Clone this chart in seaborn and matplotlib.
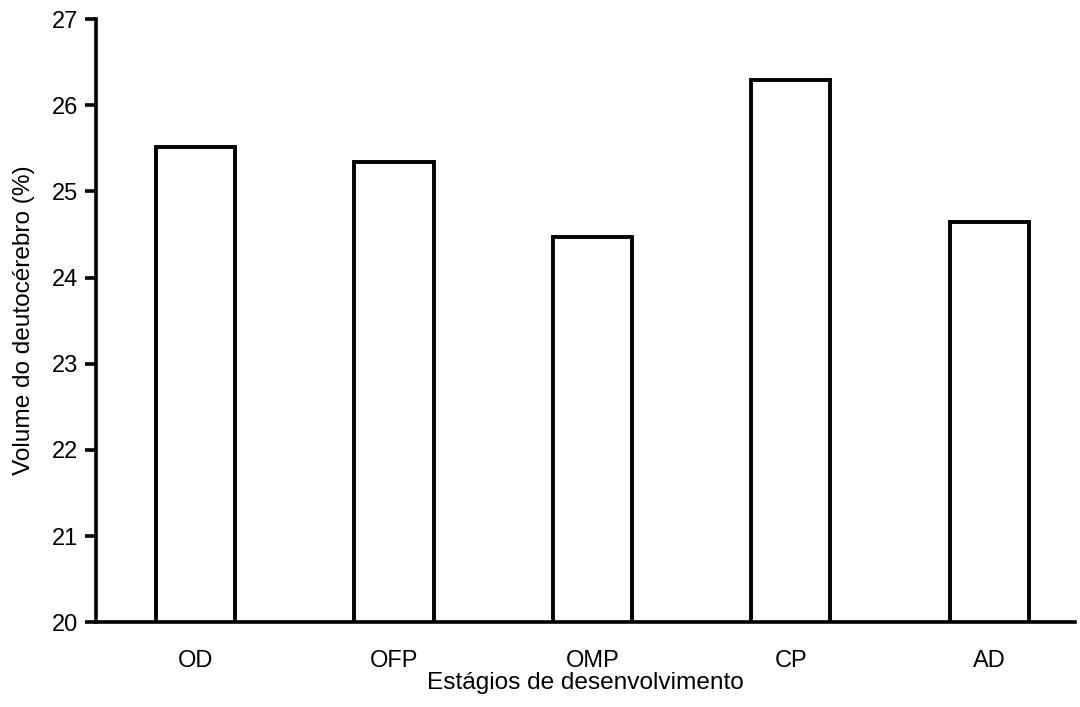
import matplotlib
matplotlib.use('Agg')
import matplotlib.pyplot as plt
import seaborn as sns
import pandas as pd

stages = ['OD', 'OFP', 'OMP', 'CP', 'AD']
volume = [25.52, 25.34, 24.47, 26.29, 24.65]

sns.set_theme(style='ticks')
plt.rcParams['font.family'] = ['Liberation Sans', 'DejaVu Sans']
plt.rcParams['text.color'] = 'black'
plt.rcParams['axes.labelcolor'] = 'black'
plt.rcParams['xtick.color'] = 'black'
plt.rcParams['ytick.color'] = 'black'

df = pd.DataFrame({'stage': stages, 'volume': volume})

fig = plt.figure(figsize=(10.8, 7.07), dpi=100)
ax = fig.add_axes([0.089, 0.12, 0.906, 0.853])

sns.barplot(data=df, x='stage', y='volume', color='white', edgecolor='black',
            linewidth=2.8, width=0.4, ax=ax)

ax.set_ylim(20, 27)
ax.set_xlim(-0.5, 4.43)
ax.set_yticks(range(20, 28))
ax.set_xlabel('Estágios de desenvolvimento', fontsize=17.6, labelpad=0)
ax.set_ylabel('Volume do deutocérebro (%)', fontsize=17.6, labelpad=12)
ax.tick_params(axis='y', length=8, width=2.6, labelsize=17, pad=5)
ax.tick_params(axis='x', length=0, labelsize=17, pad=20)
for s in ['left', 'bottom']:
    ax.spines[s].set_linewidth(2.6)
    ax.spines[s].set_color('black')
sns.despine(ax=ax)

fig.savefig('out.png', dpi=100)
